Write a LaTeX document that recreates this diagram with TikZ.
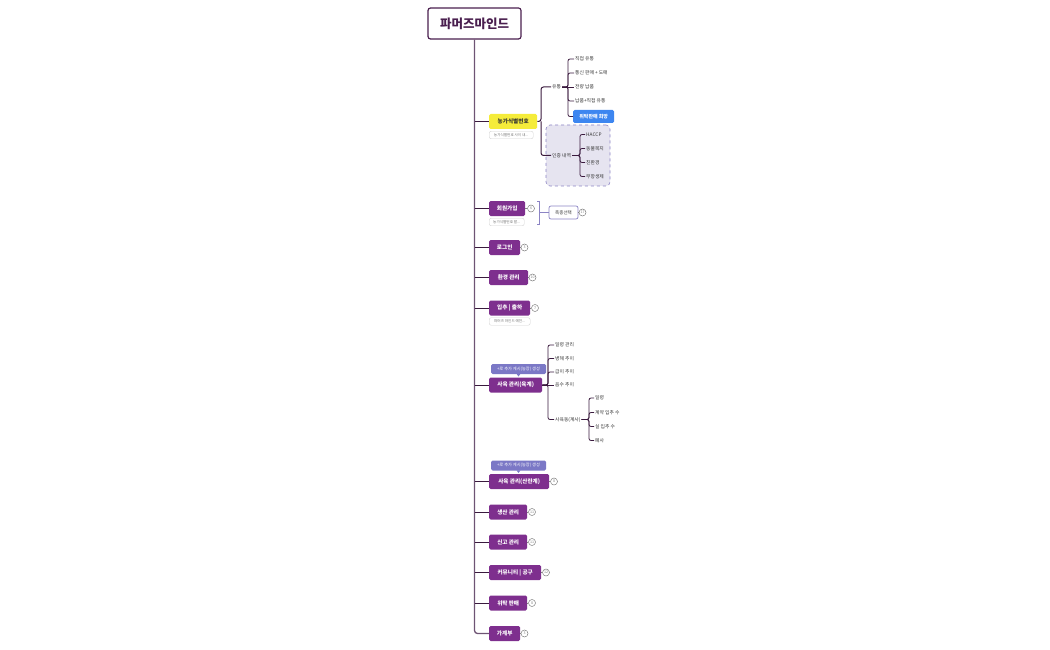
\documentclass[tikz,border=0pt]{standalone}
\usepackage{fontspec}
\setmainfont{Noto Sans CJK KR}
\usetikzlibrary{positioning}
\definecolor{mainpurple}{HTML}{7E2F8E}
\definecolor{rootdark}{HTML}{4A1F4F}
\definecolor{trunkc}{HTML}{6E5474}
\definecolor{branchc}{HTML}{3A1A3E}
\definecolor{leaftext}{HTML}{333333}
\definecolor{yellowc}{HTML}{F5EC3A}
\definecolor{bluec}{HTML}{3D86F0}
\definecolor{lavfill}{HTML}{E6E4F0}
\definecolor{lavline}{HTML}{8C84C4}
\definecolor{callc}{HTML}{7B78C6}
\tikzset{
  x=1pt,y=-1pt,
  rootbox/.style={draw=rootdark, line width=1.2pt, fill=white, rounded corners=2.5pt, text=rootdark, font=\bfseries\fontsize{12.5}{14}\selectfont, minimum width=93pt, minimum height=31pt},
  mainnode/.style={fill=mainpurple, rounded corners=1.5pt, text=white, font=\bfseries\fontsize{5.6}{6}\selectfont, minimum height=15pt, inner xsep=0pt, anchor=west},
  leaf/.style={font=\fontsize{4.8}{5}\selectfont, text=leaftext, inner xsep=1pt, inner ysep=1pt, anchor=west},
  cnt/.style={circle, draw=gray, line width=0.5pt, fill=white, inner sep=0pt, minimum size=7pt, font=\fontsize{3.6}{3}\selectfont, text=gray},
  notebox/.style={draw=gray!35, line width=0.4pt, rounded corners=2pt, font=\fontsize{3.6}{4}\selectfont, text=gray!90!black, anchor=west, inner xsep=1.5pt, inner ysep=0pt, minimum height=7.5pt},
  callout/.style={fill=callc, rounded corners=1.5pt, text=white, font=\fontsize{4.2}{5}\selectfont, minimum height=10pt, minimum width=55pt, inner sep=0pt},
  trunk/.style={draw=trunkc, line width=1.3pt, rounded corners=3pt},
  branch/.style={draw=branchc, line width=1pt, rounded corners=2.5pt},
  sub/.style={draw=branchc, line width=0.8pt, rounded corners=2pt},
}
\begin{document}
\begin{tikzpicture}
\useasboundingbox (0,0) rectangle (1050,650);
% root
\node[rootbox] (root) at (474.5,23.5) {파머즈마인드};
% main nodes
\node[mainnode, fill=yellowc, text=leaftext, minimum width=48pt] (n1) at (489,121.5) {농가식별번호};
\node[mainnode, minimum width=36pt] (n2) at (489,208.5) {회원가입};
\node[mainnode, minimum width=31pt] (n3) at (489,247.5) {로그인};
\node[mainnode, minimum width=39pt] (n4) at (489,277.5) {환경 관리};
\node[mainnode, minimum width=41pt] (n5) at (489,308) {입추 | 출하};
\node[mainnode, minimum width=53pt] (n6) at (489,385) {사육 관리(육계)};
\node[mainnode, minimum width=60pt] (n7) at (489,481.5) {사육 관리(산란계)};
\node[mainnode, minimum width=38pt] (n8) at (489,512) {생산 관리};
\node[mainnode, minimum width=38pt] (n9) at (489,542) {신고 관리};
\node[mainnode, minimum width=52pt] (n10) at (489,572.5) {커뮤니티 | 공구};
\node[mainnode, minimum width=38pt] (n11) at (489,603) {위탁 판매};
\node[mainnode, minimum width=31pt] (n12) at (489,633.5) {가계부};
% trunk
\draw[trunk] (root.south) -- (root.south |- n12.west) -- (n12.west);
\foreach \n in {n1,n2,n3,n4,n5,n6,n7,n8,n9,n10,n11}{
  \draw[branch] (root.south |- \n.west) -- (\n.west);
}
% notes
\node[notebox, minimum width=44pt] (m1) at (489,135) {농가식별번호 사이 내...};
\node[notebox, minimum width=35pt] (m2) at (489,222) {농가식별번호 발...};
\node[notebox, minimum width=41pt] (m5) at (489,321.5) {파머즈 마인드 예전...};
% counters
\node[cnt] (c2) at (531,208.5) {6};
\node[cnt] (c3) at (524.5,247.5) {3};
\node[cnt] (c4) at (532.5,277.5) {10};
\node[cnt] (c5) at (535,308) {7};
\node[cnt] (c7) at (554,481.5) {8};
\node[cnt] (c8) at (532,512) {11};
\node[cnt] (c9) at (532,542) {11};
\node[cnt] (c10) at (546,572.5) {12};
\node[cnt] (c11) at (532,603) {8};
\node[cnt] (c12) at (524.5,633.5) {3};
\foreach \a/\b in {n2/c2,n3/c3,n4/c4,n5/c5,n7/c7,n8/c8,n9/c9,n10/c10,n11/c11,n12/c12}{
  \draw[draw=gray, line width=0.5pt] (\a.east) -- (\b.west);
}
% 농가식별번호 subtree
\node[fill=lavfill, draw=lavline, dashed, line width=0.6pt, rounded corners=4pt, minimum width=64pt, minimum height=61pt] (cert) at (578,155.5) {};
\node[leaf] (yt) at (551,87) {유통};
\node[leaf] (ij) at (551,155.5) {인증 내역};
\draw[branch] (n1.east) -- (541,121.5) |- (yt.west);
\draw[branch] (541,121.5) |- (ij.west);
\node[leaf] (y1) at (574,59) {직접 유통};
\node[leaf] (y2) at (574,73) {통신 판매 + 도매};
\node[leaf] (y3) at (574,87) {전량 납품};
\node[leaf] (y4) at (574,101) {납품+직접 유통};
\node[fill=bluec, rounded corners=1.5pt, text=white, font=\bfseries\fontsize{5}{6}\selectfont, minimum width=41pt, minimum height=13pt, inner sep=0pt, anchor=west] (y5) at (573,116.5) {위탁판매 희망};
\foreach \c in {y1,y2,y4,y5}{ \draw[sub] (yt.east) -- (568,87) |- (\c.west); }
\draw[sub] (yt.east) -- (y3.west);
\node[leaf] (h1) at (585,134.5) {HACCP};
\node[leaf] (h2) at (585,148.5) {동물복지};
\node[leaf] (h3) at (585,162.5) {친환경};
\node[leaf] (h4) at (585,176.5) {무항생제};
\foreach \c in {h1,h2,h3,h4}{ \draw[sub] (ij.east) -- (580,155.5) |- (\c.west); }
% 회원가입 bracket
\draw[draw=lavline, line width=0.8pt] (537,201) -- (539,201) -- (539,212.5) -- (542,212.5) (539,212.5) -- (539,224) -- (537,224);
\node[draw=lavline, line width=0.7pt, fill=white, rounded corners=2pt, font=\fontsize{4.5}{5}\selectfont, text=leaftext, minimum width=29pt, minimum height=13pt, inner sep=0pt] (zs) at (563.5,212.5) {축종선택};
\draw[draw=lavline, line width=0.7pt] (542,212.5) -- (zs.west);
\node[cnt] (c13) at (582.5,212.5) {17};
\draw[draw=gray, line width=0.5pt] (zs.east) -- (c13.west);
% callouts
\node[callout] (k1) at (518.5,369) {+로 추가 게시(농장) 생성};
\fill[callc] (516.5,373.8) -- (520.5,373.8) -- (518.5,376.5) -- cycle;
\node[callout] (k2) at (518.5,465.5) {+로 추가 게시(농장) 생성};
\fill[callc] (516.5,470.3) -- (520.5,470.3) -- (518.5,473) -- cycle;
% 사육 관리(육계) subtree
\node[leaf] (s1) at (554,345) {일령 관리};
\node[leaf] (s2) at (554,358.5) {병해 추이};
\node[leaf] (s3) at (554,372) {급이 추이};
\node[leaf] (s4) at (554,385) {음수 추이};
\node[leaf] (s5) at (554,419.5) {사육동(계사)};
\foreach \c in {s1,s2,s3,s5}{ \draw[sub] (n6.east) -- (548,385) |- (\c.west); }
\draw[sub] (n6.east) -- (s4.west);
\node[leaf] (t1) at (594,398) {일령};
\node[leaf] (t2) at (594,412.5) {계약 입추 수};
\node[leaf] (t3) at (594,426.5) {실 입추 수};
\node[leaf] (t4) at (594,440.5) {폐사};
\foreach \c in {t1,t2,t3,t4}{ \draw[sub] (s5.east) -- (589,419.5) |- (\c.west); }
\end{tikzpicture}
\end{document}
